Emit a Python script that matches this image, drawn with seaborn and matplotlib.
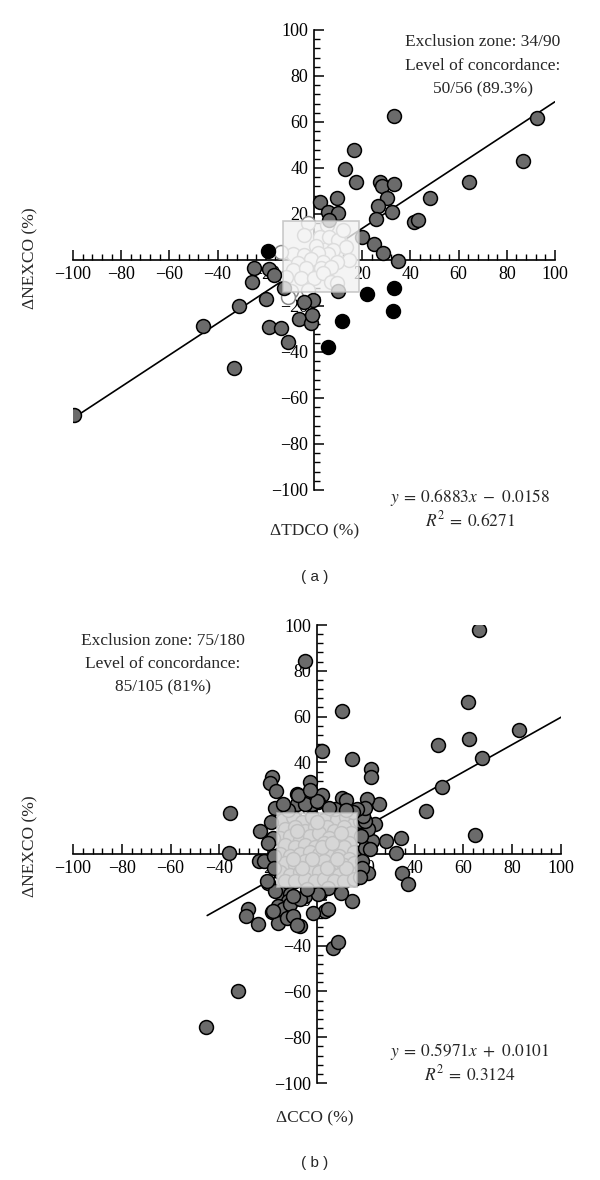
import numpy as np
import pandas as pd
import matplotlib
matplotlib.use("Agg")
import matplotlib.pyplot as plt
from matplotlib.patches import Rectangle
from matplotlib.ticker import MultipleLocator
import seaborn as sns

# ---------------- data: panel (a) ----------------
a_conc_x = [92.5, 86.6, 64.4, 48.1, 41.6, 43.0, 33.3, 16.5, 13.0, 17.4, 27.4, 28.1, 33.3,
            30.2, 26.6, 32.4, 25.6, 9.5, 2.6, 5.7, 10.1, 6.4, 19.9, 24.8, 28.8, 34.7,
            -99.5, -46.2, -33.0, -31.0, -25.0, -25.9, -19.9, -18.5, -16.5, -18.5, -13.7,
            -6.3, -1.2, -10.9, -0.5, -4.0, -0.8, -12.5, 9.8]
a_conc_y = [61.9, 43.2, 34.0, 26.8, 16.7, 17.2, 62.7, 47.8, 39.4, 34.0, 34.0, 32.3, 33.0,
            27.1, 23.5, 20.7, 17.7, 26.8, 25.4, 21.0, 20.3, 17.4, 10.1, 7.0, 2.9, -0.3,
            -67.4, -28.7, -47.1, -20.0, -3.6, -9.4, -17.1, -4.0, -6.5, -29.0, -29.7,
            -25.8, -27.3, -35.5, -17.4, -18.1, -24.0, -12.0, -13.5]
a_disc_x = [-19.2, 22.0, 33.3, 32.9, 11.6, 5.7]
a_disc_y = [4.0, -14.9, -12.3, -22.0, -26.5, -37.7]
a_excl_x = [-2.6, 5.3, -4.3, 2.6, 6.4, 0.8, 11.2, 9.8, 13.3, 7.7, 5.7, 1.5, -8.8, -4.0,
            -13.7, -1.2, -6.8, 14.6, 9.5, 3.6, -8.8, -3.3, 2.9, 7.0, -11.6, -5.4, -0.1,
            3.6, 7.0, 9.5, -9.5, -2.6, -10.9, 12.0]
a_excl_y = [16.2, 15.2, 10.9, 10.1, 10.1, 6.1, 7.2, 8.7, 5.8, 4.3, 2.6, 3.2, 2.6, 2.2,
            3.6, 0.3, -1.4, 0.0, -0.7, -0.7, -4.3, -3.6, -3.6, -2.9, -7.2, -8.0, -8.0,
            -5.8, -9.4, -9.9, -13.3, -13.0, -16.0, 13.0]
a_fit = (0.6883, -0.0158)
a_zone = (-13.0, 18.5, -14.0, 17.0)

# ---------------- data: panel (b) ----------------
b_out_x = [66.5, -4.9, 62.0, 10.1, 62.3, 82.9, 49.7, 67.7, 1.9, 14.5, 22.0, 22.0, -2.9,
           51.4, 44.5, 64.8, 25.4, 20.4, 10.4, 11.8, 1.9, 0.5, 28.3, 34.3, 32.4, 34.7,
           37.2, 21.0, 22.4, 19.7, 21.7, 23.8, 21.0, 17.6, 19.7, 19.0, 19.7, 7.4, -2.2,
           18.3, 18.3, 14.2, 3.3, 4.6, -1.5, 1.2, -4.9, 6.7, 8.5, 4.6, -7.0, -18.6,
           -19.3, -16.8, -8.1, -35.7, -17.2, -8.3, -4.9, -23.4, -17.9, -35.9, -23.6,
           -21.7, -20.2, -17.5, -17.5, -15.2, -11.1, -11.8, -15.9, -13.8, -11.1, -28.4,
           -29.1, -24.1, -18.6, -15.9, -12.4, -9.7, -8.3, 0.5, -17.9, -7.0, -17.2, -7.7,
           -45.5, -32.4, -20.6, -9.7, -0.1, 16.3, 14.9, 12.0, -12.0, -14.0, 5.0, 17.5,
           18.0, -20.0, -19.0, 10.0, -4.0, -3.0]
b_out_y = [97.8, 84.3, 66.5, 62.4, 50.1, 54.0, 47.5, 42.0, 45.0, 41.6, 37.0, 33.6, 31.4,
           29.3, 18.8, 8.2, 22.0, 24.1, 24.3, 23.4, 25.6, 22.8, 5.7, 7.1, 0.3, -8.2,
           -13.3, -8.2, 5.7, 2.8, 2.0, 12.9, 10.7, 14.4, 14.4, 16.6, 20.2, 19.5, 21.7,
           -3.1, -6.0, -20.5, -24.9, -23.8, -25.6, -16.9, -18.3, -40.9, -38.3, -15.0,
           -31.4, 33.6, 30.9, 27.5, 26.0, 17.8, 19.9, 21.7, 21.7, 10.0, 7.1, 0.3, -3.0,
           -3.0, -12.5, -1.0, -6.0, -16.9, -17.6, -20.5, -22.7, -24.2, -22.0, -24.2,
           -27.1, -30.5, -25.2, -30.0, -27.8, -27.1, -31.0, -17.6, -24.9, -19.7, -16.2,
           25.8, -75.5, -59.8, -11.8, -18.3, 23.1, 19.5, 18.5, 19.0, 19.0, 22.0, 20.0,
           -10.0, 8.0, 5.0, 14.0, -17.0, -15.5, 28.0]
b_in_x = [-14, -10, -6, -2, 3, 8, 12, 15, -13, -9, -5, -1, 4, 7, 11, 14, -15, -11, -7, -3,
          1, 5, 9, 13, -13, -9, -5, -1, 3, 7, 11, 15, -15, -11, -7, -3, 1, 5, 9, 13, -13,
          -9, -5, -1, 3, 7, 11, 15, -15, -11, -7, -3, 1, 5, 9, 13, -13, -9, -5, -1, 3, 7,
          11, 15, -2, 2, 6, -6, 0, 10, -10, 4, 12, -8, 8]
b_in_y = [15, 16, 14, 16, 15, 15, 16, 13, 11, 12, 10, 12, 12, 10, 12, 9, 7, 8, 6, 8, 9, 7,
          6, 5, 4, 3, 4, 3, 5, 2, 3, 1, 0, -1, 0, 1, 0, -1, -1, -2, -4, -5, -3, -4, -3,
          -5, -5, -4, -8, -9, -8, -7, -8, -8, -9, -8, -12, -12, -11, -12, -11, -12, -12,
          -11, -2, 3, 5, -6, 14, 9, -2, -6, -6, 10, -2]
b_fit = (0.5971, 0.0101)
b_fit_range = (-45.0, 103.0)
b_zone = (-16.4, 16.4, -14.4, 17.9)

# ---------------- style ----------------
sns.set_style("white")
plt.rcParams["font.family"] = ["Liberation Serif", "DejaVu Serif"]
plt.rcParams["mathtext.fontset"] = "stix"

W, H = 600, 1180
fig = plt.figure(figsize=(W / 100, H / 100), dpi=100)

GRAY = "#6b6b6b"
MS = 100


def fx(px):
    return px / W


def fy(py):
    return 1 - py / H


def style_axes(ax):
    ax.set_xlim(-100, 100)
    ax.set_ylim(-100, 100)
    for s in ["top", "right"]:
        ax.spines[s].set_visible(False)
    for s in ["left", "bottom"]:
        ax.spines[s].set_position("zero")
        ax.spines[s].set_linewidth(1.2)
        ax.spines[s].set_color("black")
    ax.xaxis.set_major_locator(MultipleLocator(20))
    ax.xaxis.set_minor_locator(MultipleLocator(4))
    ax.yaxis.set_major_locator(MultipleLocator(20))
    ax.yaxis.set_minor_locator(MultipleLocator(4))
    ax.tick_params(which="both", bottom=True, left=True, top=False, right=False)
    ax.tick_params(which="major", direction="in", length=7, width=1.1,
                   labelsize=13, colors="black", pad=4)
    ax.tick_params(which="minor", direction="in", length=4, width=1.0, colors="black")
    ax.set_xlabel("")
    ax.set_ylabel("")
    ax.grid(False)


def zone(ax, z):
    ax.add_patch(Rectangle((z[0], z[2]), z[1] - z[0], z[3] - z[2],
                           facecolor="#f2f2f2", edgecolor="#bdbdbd", lw=1.2,
                           alpha=0.8, zorder=6))


# ---------------- panel (a) ----------------
ax1 = fig.add_axes([fx(73), fy(490), (555 - 73) / W, 460 / H])
lx = np.array([-100.0, 100.0])
sns.lineplot(x=lx, y=a_fit[0] * lx + a_fit[1], ax=ax1, color="black", lw=1.2, zorder=2)
sns.scatterplot(x=a_excl_x, y=a_excl_y, ax=ax1, s=MS, color="white",
                edgecolor="#8a8a8a", linewidth=1.1, zorder=3)
sns.scatterplot(x=a_conc_x, y=a_conc_y, ax=ax1, s=MS, color=GRAY,
                edgecolor="black", linewidth=1.1, zorder=4)
sns.scatterplot(x=a_disc_x, y=a_disc_y, ax=ax1, s=MS, color="black",
                edgecolor="black", linewidth=1.1, zorder=4)
zone(ax1, a_zone)
style_axes(ax1)

# ---------------- panel (b) ----------------
ax2 = fig.add_axes([fx(73), fy(1083), (561 - 73) / W, 458 / H])
lx2 = np.array(b_fit_range)
sns.lineplot(x=lx2, y=b_fit[0] * lx2 + b_fit[1], ax=ax2, color="black", lw=1.2, zorder=2)
sns.scatterplot(x=b_in_x, y=b_in_y, ax=ax2, s=MS, color=GRAY,
                edgecolor="black", linewidth=1.1, zorder=3)
sns.scatterplot(x=b_out_x, y=b_out_y, ax=ax2, s=MS, color=GRAY,
                edgecolor="black", linewidth=1.1, zorder=4)
zone(ax2, b_zone)
style_axes(ax2)

# ---------------- texts ----------------
TS = 12.5
for txt, y in [("Exclusion zone: 34/90", 42), ("Level of concordance:", 66),
               ("50/56 (89.3%)", 89)]:
    fig.text(fx(483), fy(y), txt, ha="center", va="center", fontsize=TS)
for txt, y in [("Exclusion zone: 75/180", 641), ("Level of concordance:", 664),
               ("85/105 (81%)", 687)]:
    fig.text(fx(163), fy(y), txt, ha="center", va="center", fontsize=TS)

EQ = 12.5
fig.text(fx(470), fy(497), r"$y\:=\:0.6883x\ -\ 0.0158$", ha="center", va="center", fontsize=EQ)
fig.text(fx(470), fy(520), r"$R^2\:=\:0.6271$", ha="center", va="center", fontsize=EQ)
fig.text(fx(470), fy(1051), r"$y\:=\:0.5971x\ +\ 0.0101$", ha="center", va="center", fontsize=EQ)
fig.text(fx(470), fy(1074), r"$R^2\:=\:0.3124$", ha="center", va="center", fontsize=EQ)

fig.text(fx(30), fy(258), "ΔNEXCO (%)", rotation=90, ha="center", va="center", fontsize=TS)
fig.text(fx(315), fy(531), "ΔTDCO (%)", ha="center", va="center", fontsize=TS)
fig.text(fx(30), fy(846), "ΔNEXCO (%)", rotation=90, ha="center", va="center", fontsize=TS)
fig.text(fx(315), fy(1118), "ΔCCO (%)", ha="center", va="center", fontsize=TS)

fig.text(fx(315), fy(577), "( a )", ha="center", va="center", fontsize=11,
         family=["Liberation Sans", "DejaVu Sans"])
fig.text(fx(315), fy(1163), "( b )", ha="center", va="center", fontsize=11,
         family=["Liberation Sans", "DejaVu Sans"])

fig.savefig("out.png", dpi=100, facecolor="white")
